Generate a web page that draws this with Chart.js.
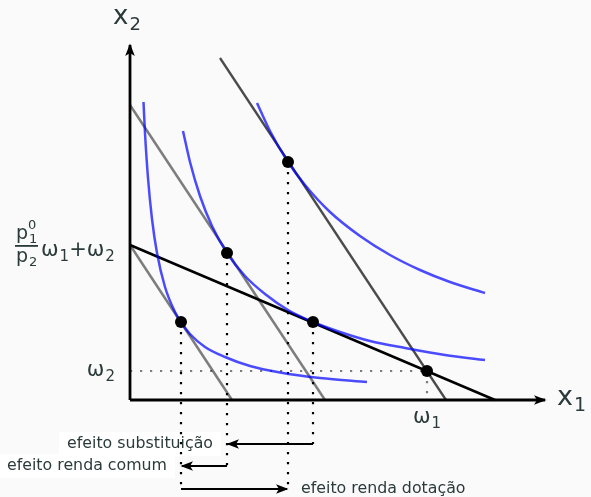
<!DOCTYPE html>
<html>
<head>
<meta charset="utf-8">
<script src="https://cdn.jsdelivr.net/npm/chart.js"></script>
<style>
  html, body { margin: 0; padding: 0; background: #fafafa; }
  canvas { display: block; }
</style>
</head>
<body>
<canvas id="chart" width="591" height="497"></canvas>
<script>
// Curvas de indiferença (unidades arbitrárias)
const curvaU1 = [[1.35, 29.8], [1.5, 26.7], [1.8, 22.2], [2.2, 18.1], [2.7, 14.7], [3.5, 11.3], [4.5, 8.8],
  [5.1, 7.8], [6.0, 6.6], [7.5, 5.3], [9.5, 4.3], [12.0, 3.4], [15.0, 2.75], [19.0, 2.2], [23.7, 1.8]];
const curvaU2 = [[5.3, 26.9], [6.0, 23.8], [7.0, 20.4], [8.2, 17.4], [9.7, 14.7], [11.5, 12.4], [13.5, 10.6],
  [15.8, 9.0], [18.3, 7.8], [21.0, 6.8], [24.0, 5.9], [27.5, 5.2], [31.5, 4.5], [35.5, 4.0]];
const curvaU3 = [[12.7, 29.7], [14.0, 26.9], [15.8, 23.8], [17.5, 21.5], [20.0, 18.8], [23.0, 16.4],
  [26.0, 14.5], [29.0, 13.0], [32.0, 11.8], [35.5, 10.7]];

// Retas orçamentárias
const retaNova = [[0, 15.5], [36.5, 0]];
const retaOriginal = [[9.0, 34.2], [31.6, 0]];
const retaCompensada = [[0, 29.5], [19.5, 0]];
const retaBaixa = [[0, 15.5], [10.2, 0]];

// Dotação e cestas ótimas
const dotacao = [29.7, 2.9];
const cestas = [[5.1, 7.8], [9.7, 14.7], [18.3, 7.8], [15.8, 23.8], [29.7, 2.9]];

// Efeitos (linhas pontilhadas + setas)
const guias = [[5.1, 7.8, -8.9], [9.7, 14.7, -6.6], [15.8, 23.8, -8.9], [18.3, 7.8, -4.4]];
const efeitos = [
  { texto: 'efeito substituição', de: 18.3, ate: 9.8, y: -4.4, lado: 'esq' },
  { texto: 'efeito renda comum', de: 9.7, ate: 5.2, y: -6.6, lado: 'esq' },
  { texto: 'efeito renda dotação', de: 5.1, ate: 15.7, y: -8.9, lado: 'dir' }
];

const eixoX = [[0, 0], [41.5, 0]];
const eixoY = [[0, 0], [0, 35.5]];

const corTexto = '#2b3a3a';
const azul = 'rgba(0, 0, 255, 0.7)';

const pts = (arr) => arr.map(p => ({ x: p[0], y: p[1] }));

function linha(data, cor, largura, extra) {
  return Object.assign({
    data: pts(data), showLine: true, borderColor: cor, borderWidth: largura,
    pointRadius: 0, fill: false
  }, extra || {});
}

const datasets = [];
datasets.push({ data: pts(cestas), showLine: false, pointRadius: 6, backgroundColor: '#000', borderWidth: 0 });
datasets.push(linha(curvaU1, azul, 2.5, { cubicInterpolationMode: 'monotone' }));
datasets.push(linha(curvaU2, azul, 2.5, { cubicInterpolationMode: 'monotone' }));
datasets.push(linha(curvaU3, azul, 2.5, { cubicInterpolationMode: 'monotone' }));
datasets.push(linha(retaNova, '#000', 2.5));
datasets.push(linha(retaOriginal, 'rgba(0,0,0,0.7)', 2.3));
datasets.push(linha(retaCompensada, 'rgba(0,0,0,0.5)', 2.5));
datasets.push(linha(retaBaixa, 'rgba(0,0,0,0.5)', 2.5));
guias.forEach(g => datasets.push(linha([[g[0], g[1]], [g[0], g[2]]], '#000', 2.2, { borderDash: [2.2, 7.8] })));
datasets.push(linha([[0, dotacao[1]], dotacao], 'rgba(0,0,0,0.5)', 2.2, { borderDash: [2.2, 7.8] }));
datasets.push(linha([dotacao, [dotacao[0], 0]], 'rgba(0,0,0,0.5)', 2.2, { borderDash: [2.2, 7.8] }));
efeitos.forEach(e => datasets.push(linha([[e.de, e.y], [e.ate, e.y]], '#000', 2.2, { seta: true })));
datasets.push(linha(eixoX, '#000', 2.8, { seta: true }));
datasets.push(linha(eixoY, '#000', 2.8, { seta: true }));

function cabeca(ctx, x0, y0, x1, y1) {
  const a = Math.atan2(y1 - y0, x1 - x0);
  ctx.save();
  ctx.translate(x1, y1);
  ctx.rotate(a);
  ctx.beginPath();
  ctx.moveTo(1.5, 0);
  ctx.lineTo(-11, -4.8);
  ctx.lineTo(-8, 0);
  ctx.lineTo(-11, 4.8);
  ctx.closePath();
  ctx.fillStyle = '#000';
  ctx.fill();
  ctx.restore();
}

// texto com subscrito/sobrescrito
function comIndice(ctx, base, ind, x, y, tam, pos) {
  ctx.font = tam + 'px "DejaVu Sans"';
  ctx.textAlign = 'left';
  ctx.textBaseline = 'alphabetic';
  ctx.fillText(base, x, y);
  const w = ctx.measureText(base).width;
  const t2 = Math.round(tam * 0.7);
  ctx.font = t2 + 'px "DejaVu Sans"';
  const dy = pos === 'sup' ? -tam * 0.45 : tam * 0.22;
  ctx.fillText(ind, x + w + 1, y + dy);
  return w + 1 + ctx.measureText(ind).width;
}

function larguraIndice(ctx, base, ind, tam) {
  ctx.font = tam + 'px "DejaVu Sans"';
  const w = ctx.measureText(base).width;
  ctx.font = Math.round(tam * 0.7) + 'px "DejaVu Sans"';
  return w + 1 + ctx.measureText(ind).width;
}

const fundo = {
  id: 'fundo',
  beforeDraw(chart) {
    const ctx = chart.ctx;
    ctx.save();
    ctx.fillStyle = '#fafafa';
    ctx.fillRect(0, 0, chart.width, chart.height);
    ctx.restore();
  }
};

const anotacoes = {
  id: 'anotacoes',
  beforeDatasetsDraw(chart) {
    // caixas brancas das legendas dos efeitos
    const ctx = chart.ctx, sx = chart.scales.x, sy = chart.scales.y;
    ctx.save();
    ctx.font = '15.8px "DejaVu Sans"';
    efeitos.forEach(e => {
      const w = ctx.measureText(e.texto).width;
      const yp = sy.getPixelForValue(e.y);
      if (e.lado === 'esq') {
        const xr = sx.getPixelForValue(e.ate) - 7;
        ctx.fillStyle = '#ffffff';
        ctx.fillRect(xr - w - 16, yp - 12, w + 16, 24);
      }
    });
    ctx.restore();
  },
  afterDatasetsDraw(chart) {
    const ctx = chart.ctx, sx = chart.scales.x, sy = chart.scales.y;
    // setas
    chart.data.datasets.forEach((ds, i) => {
      if (!ds.seta) return;
      const d = chart.getDatasetMeta(i).data;
      const a = d[d.length - 2], b = d[d.length - 1];
      cabeca(ctx, a.x, a.y, b.x, b.y);
    });
    ctx.save();
    ctx.fillStyle = corTexto;

    // rótulos dos eixos
    const ox = sx.getPixelForValue(0), oy = sy.getPixelForValue(0);
    comIndice(ctx, 'x', '2', ox - 17, sy.getPixelForValue(35.5) - 21, 26, 'sub');
    comIndice(ctx, 'x', '1', sx.getPixelForValue(41.5) + 12, oy + 5, 27, 'sub');

    // ω1 e ω2
    const w1 = larguraIndice(ctx, 'ω', '1', 21);
    comIndice(ctx, 'ω', '1', sx.getPixelForValue(dotacao[0]) - w1 / 2, oy + 23, 21, 'sub');
    const w2 = larguraIndice(ctx, 'ω', '2', 21);
    comIndice(ctx, 'ω', '2', ox - 15 - w2, sy.getPixelForValue(dotacao[1]) + 5, 21, 'sub');

    // (p1^0/p2) ω1 + ω2
    const fy = sy.getPixelForValue(retaNova[0][1]);
    const fx = ox - 115;
    comIndice(ctx, 'p', '1', fx + 1, fy - 6, 19, 'sub');
    ctx.font = '13px "DejaVu Sans"';
    ctx.fillText('0', fx + 13, fy - 16);
    ctx.fillRect(fx, fy, 23, 1.8);
    comIndice(ctx, 'p', '2', fx + 1, fy + 17, 19, 'sub');
    let x = fx + 26;
    x += comIndice(ctx, 'ω', '1', x, fy + 11, 21, 'sub');
    ctx.font = '21px "DejaVu Sans"';
    ctx.fillText('+', x, fy + 11);
    x += ctx.measureText('+').width;
    comIndice(ctx, 'ω', '2', x, fy + 11, 21, 'sub');

    // legendas dos efeitos
    ctx.font = '15.8px "DejaVu Sans"';
    ctx.textBaseline = 'middle';
    efeitos.forEach(e => {
      const yp = sy.getPixelForValue(e.y);
      if (e.lado === 'esq') {
        ctx.textAlign = 'right';
        ctx.fillText(e.texto, sx.getPixelForValue(e.ate) - 15, yp);
      } else {
        ctx.textAlign = 'left';
        ctx.fillText(e.texto, sx.getPixelForValue(e.ate) + 14, yp);
      }
    });
    ctx.restore();
  }
};

new Chart(document.getElementById('chart'), {
  type: 'scatter',
  data: { datasets },
  options: {
    responsive: false,
    devicePixelRatio: 1,
    animation: false,
    events: [],
    layout: { padding: 0, autoPadding: false },
    plugins: { legend: { display: false }, tooltip: { enabled: false } },
    scales: {
      x: { type: 'linear', min: -13, max: 46.1, display: false },
      y: { type: 'linear', min: -9.7, max: 40, display: false }
    }
  },
  plugins: [fundo, anotacoes]
});
</script>
</body>
</html>
